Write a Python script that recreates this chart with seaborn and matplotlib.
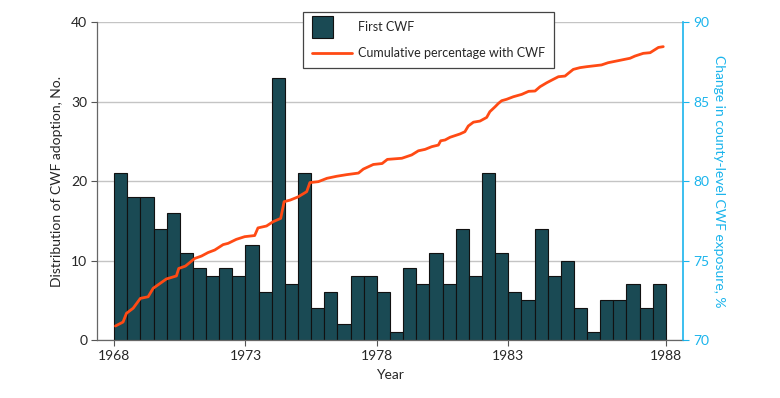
import numpy as np
import pandas as pd
import matplotlib
matplotlib.use("Agg")
import matplotlib.pyplot as plt
import seaborn as sns
from matplotlib.patches import Patch, Rectangle
from matplotlib.lines import Line2D
from matplotlib.legend_handler import HandlerPatch

# half-year bins of first community water fluoridation (CWF) adoption
first_cwf = [21, 18, 18, 14, 16, 11, 9, 8, 9, 8,
             12, 6, 33, 7, 21, 4, 6, 2, 8, 8,
             6, 1, 9, 7, 11, 7, 14, 8, 21, 11,
             6, 5, 14, 8, 10, 4, 1, 5, 5, 7, 4, 7]
year_ticks = [1968, 1973, 1978, 1983, 1988]
year_tick_bins = [0, 10, 20, 30, 42]

# cumulative percentage with CWF, position in bin units from start of 1968
line_t = [0.1, 0.68, 0.94, 1.45, 2.0, 2.59, 2.97, 3.98, 4.74, 4.92,
          5.43, 6.14, 6.65, 7.15, 7.66, 8.3, 8.68, 9.3, 9.94, 10.7,
          10.95, 11.6, 12.1, 12.68, 12.94, 13.4, 14.0, 14.66, 14.9, 15.55,
          16.2, 16.95, 17.7, 18.6, 18.97, 19.73, 20.4, 20.8, 21.9, 22.65,
          23.16, 23.67, 24.18, 24.68, 24.86, 25.19, 25.57, 26.33, 26.7, 26.96,
          27.35, 27.85, 28.36, 28.6, 29.0, 29.25, 29.5, 29.88, 30.39, 31.03,
          31.55, 32.04, 32.42, 32.93, 33.44, 33.82, 34.32, 34.57, 34.95, 35.46,
          35.97, 37.1, 37.6, 38.26, 39.27, 39.65, 40.28, 40.8, 41.43, 41.8]
line_pct = [70.88, 71.13, 71.68, 72.0, 72.62, 72.72, 73.25, 73.84, 74.03, 74.5,
            74.65, 75.13, 75.28, 75.5, 75.66, 76.0, 76.08, 76.33, 76.5, 76.57,
            77.05, 77.17, 77.44, 77.65, 78.7, 78.8, 79.0, 79.33, 79.9, 79.96,
            80.17, 80.3, 80.4, 80.5, 80.75, 81.04, 81.1, 81.36, 81.43, 81.64,
            81.9, 81.99, 82.16, 82.26, 82.53, 82.58, 82.75, 82.96, 83.1, 83.46,
            83.7, 83.77, 84.0, 84.36, 84.67, 84.88, 85.05, 85.14, 85.3, 85.45,
            85.64, 85.66, 85.93, 86.18, 86.4, 86.56, 86.6, 86.77, 87.02, 87.13,
            87.19, 87.3, 87.44, 87.55, 87.72, 87.86, 88.03, 88.07, 88.4, 88.45]

bar_color = '#1a4a54'
line_color = '#ff4a14'
right_color = '#1ab4ec'

sns.set_style('white')
plt.rcParams['font.family'] = ['Lato', 'DejaVu Sans']
plt.rcParams['font.size'] = 9.5

df = pd.DataFrame({'bin': np.arange(len(first_cwf)), 'count': first_cwf})
line_df = pd.DataFrame({'t': np.array(line_t) - 0.5, 'pct': line_pct})

fig = plt.figure(figsize=(7.8, 3.98), dpi=100)
ax = fig.add_axes([0.1244, 0.1457, 0.7512, 0.799])

sns.barplot(data=df, x='bin', y='count', width=1, color=bar_color,
            edgecolor='#111111', linewidth=0.8, saturation=1, ax=ax, zorder=2)
ax.set_xlim(-1.8, 42.8)
ax.set_ylim(0, 40)
ax.set_yticks([0, 10, 20, 30, 40])
ax.set_xticks(np.array(year_tick_bins) - 0.5)
ax.set_xticklabels([str(y) for y in year_ticks])
ax.yaxis.grid(True, color='#c4c4c4', linewidth=1)
ax.set_axisbelow(True)
ax.set_xlabel('Year', fontsize=10, labelpad=5)
ax.set_ylabel('Distribution of CWF adoption, No.', fontsize=10, labelpad=6)
ax.tick_params(axis='both', length=4, width=0.8, color='#555555', labelsize=10,
               bottom=True, left=True, pad=3)
for s in ['top', 'right']:
    ax.spines[s].set_visible(False)
for s in ['left', 'bottom']:
    ax.spines[s].set_color('#666666')
    ax.spines[s].set_linewidth(0.9)

ax2 = ax.twinx()
sns.lineplot(data=line_df, x='t', y='pct', color=line_color, linewidth=2, ax=ax2)
ax2.set_ylim(70, 90)
ax2.set_yticks([70, 75, 80, 85, 90])
ax2.set_ylabel('Change in county-level CWF exposure, %', color=right_color,
               fontsize=10, rotation=270, labelpad=11)
ax2.tick_params(axis='y', colors=right_color, length=4, width=0.8, labelsize=10, right=True)
for s in ['top', 'left', 'bottom']:
    ax2.spines[s].set_visible(False)
ax2.spines['right'].set_color(right_color)
ax2.spines['right'].set_linewidth(1.2)


class SquareHandler(HandlerPatch):
    def create_artists(self, legend, orig_handle, xdescent, ydescent,
                       width, height, fontsize, trans):
        side = fontsize * 1.7
        r = Rectangle((-xdescent, -ydescent + height / 2 - side / 2), side, side,
                      facecolor=orig_handle.get_facecolor(),
                      edgecolor=orig_handle.get_edgecolor(), linewidth=0.8,
                      transform=trans)
        return [r]


handles = [Patch(facecolor=bar_color, edgecolor='#111111'),
           Line2D([0], [0], color=line_color, linewidth=2)]
leg = ax2.legend(handles, ['First CWF', 'Cumulative percentage with CWF'],
                 handler_map={Patch: SquareHandler()},
                 loc='upper left', bbox_to_anchor=(0.388, 0.970),
                 bbox_transform=fig.transFigure, borderaxespad=0,
                 frameon=True, fancybox=False, framealpha=1, edgecolor='#444444',
                 fontsize=9, handlelength=3.2, handletextpad=0.45,
                 labelspacing=1.1, borderpad=0.75)
leg.get_frame().set_linewidth(0.9)

fig.savefig('out.png', dpi=100)
